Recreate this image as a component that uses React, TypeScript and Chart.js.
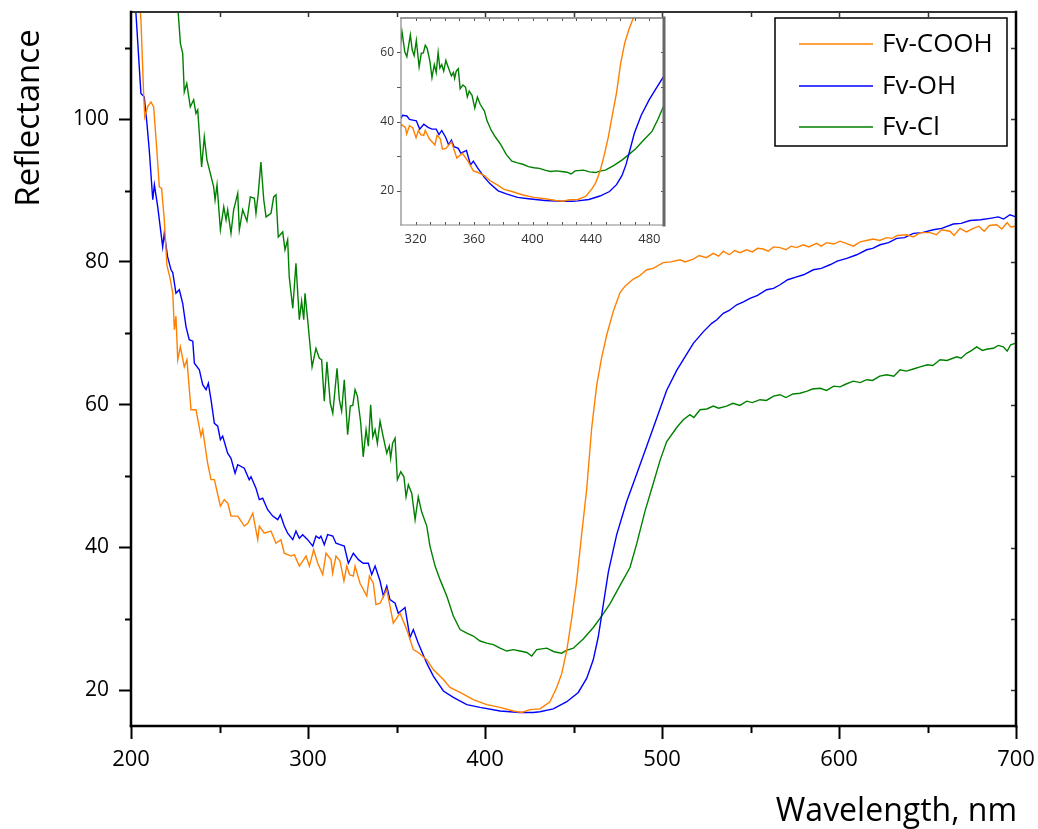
import React, { useEffect, useRef } from 'react';
import { Chart, registerables } from 'chart.js';

Chart.register(...registerables);

const seriesLabels = ['Fv-COOH', 'Fv-OH', 'Fv-Cl'];
const seriesColors = ['#ff8000', '#0000ff', '#008000'];

const wavelengthCOOH = [
  200, 203, 205.6, 207.2, 207.8, 209.5, 211.3, 212.8, 214.5, 216,
  217.3, 218.8, 220.3, 222, 223.6, 224.5, 225.4, 226.4, 227.9, 230.1,
  231.6, 233.9, 236.7, 239.5, 240.5, 243.3, 245.2, 247.1, 250.5, 252.7,
  254.7, 256.5, 260.3, 264, 266, 268.8, 271.6, 272.5, 275.3, 279.1,
  281.9, 284.7, 286.6, 290.4, 292.3, 295.1, 298.9, 300.8, 303.2, 305.5,
  308.3, 310.2, 313, 313.9, 315.8, 318.1, 320.3, 321.9, 323.5, 325.6,
  326.6, 329.4, 333.2, 334.7, 336.9, 338.4, 340.7, 344.5, 348.2, 352,
  355.8, 359.5, 362.3, 367.1, 370.8, 376.5, 380.2, 385.9, 393.4, 401,
  408.5, 416, 420.7, 425.4, 431.1, 436.7, 440.5, 443.3, 446.2, 449,
  451.8, 454.6, 457.5, 460.3, 463.1, 465.9, 468.8, 472.5, 476.3, 479.1,
  483.8, 487, 491.4, 495, 500.7, 505, 510.2, 513, 517.7, 521,
  525, 529, 532, 534.6, 538, 541, 544, 547.8, 551, 554,
  557.2, 560, 563, 566.7, 570, 573, 576, 579.8, 583, 587.4,
  590, 593, 597, 600.6, 604, 608.1, 612, 615.5, 619.4, 623,
  626.9, 630, 633, 638.2, 642, 646, 651.4, 655, 658, 662.7,
  665, 668.4, 672, 675.9, 679, 682, 685, 689.1, 692, 695,
  697, 700,
];
const reflectanceCOOH = [
  135, 122, 114, 103.1, 100.3, 101.8, 102.4, 101.7, 96, 90.5,
  90.3, 85.9, 79.5, 77.8, 75.6, 70.5, 72.4, 66.3, 68.1, 65.3,
  66.3, 59.3, 59.3, 55.6, 56.5, 51.8, 49.5, 49.5, 45.8, 46.7,
  46.2, 44.4, 44.4, 43.0, 43.4, 44.8, 41.1, 43.0, 42.0, 42.3,
  40.6, 41.1, 39.2, 38.8, 39.0, 37.4, 38.8, 37.4, 39.7, 37.8,
  36.2, 39.2, 38.3, 36.4, 38.8, 38.1, 35.3, 37.4, 36.2, 36.0,
  37.4, 35.0, 33.2, 36.0, 35.0, 32.0, 32.2, 34.1, 29.4, 30.8,
  28.5, 25.7, 25.3, 24.3, 22.9, 21.5, 20.4, 19.7, 18.7, 18.0,
  17.6, 17.1, 16.9, 17.3, 17.4, 18.4, 20.4, 22.3, 25.6, 30.1,
  35.3, 41.8, 48.3, 56.8, 62.7, 66.6, 69.8, 73.1, 75.7, 76.6,
  77.6, 78.0, 78.9, 79.1, 79.9, 80.0, 80.3, 80.0, 80.4, 80.9,
  80.6, 81.2, 80.8, 81.5, 81.0, 81.6, 81.3, 81.7, 81.4, 81.9,
  81.8, 81.5, 82.1, 82.0, 81.7, 82.2, 82.0, 82.4, 82.1, 82.6,
  82.2, 82.7, 82.5, 82.9, 82.6, 82.2, 82.8, 83.0, 83.2, 83.0,
  83.4, 83.3, 83.7, 83.8, 83.5, 84.1, 84.1, 83.8, 84.5, 84.3,
  83.7, 84.7, 84.2, 84.7, 85.0, 84.3, 85.1, 85.2, 84.6, 85.5,
  84.9, 85.0,
];

const wavelengthOH = [
  200, 202.8, 205.6, 207.5, 209, 210.3, 212.3, 213.2, 215.1, 217.9,
  218.8, 220.7, 222.6, 223.6, 225.4, 227.3, 229.2, 231.1, 232.9, 234.9,
  235.8, 238.6, 240.5, 242.4, 243.7, 245.2, 247.1, 249, 250.5, 251.8,
  254.6, 256.5, 258.8, 260.3, 264, 266.8, 267.8, 270.6, 272.5, 274.4,
  277.2, 280.1, 282.9, 284.4, 286.6, 288.5, 291.4, 293.2, 295.1, 297,
  299.8, 302.7, 304.5, 306.4, 307.3, 309.2, 311.1, 314, 315.8, 318.1,
  320.5, 322.8, 325.6, 328.5, 331.2, 334.1, 336, 337.9, 340.7, 342.6,
  344.5, 346.3, 349.2, 351, 354.8, 357.6, 359.5, 362.3, 367.1, 370.8,
  376.5, 382.1, 389.7, 397.2, 408.5, 419.8, 427.3, 431, 438.6, 446.2,
  452.7, 457.5, 461.2, 464, 466.9, 469.7, 474.4, 480, 485.7, 491.4,
  497, 502.6, 508.3, 513, 517.7, 520.5, 523.3, 528.1, 531, 534.6,
  538, 542.2, 546, 549.7, 554, 559.1, 563, 566.7, 571, 576.1,
  580, 585.5, 590, 594.9, 599, 604.4, 610, 615.6, 619, 623.2,
  628, 632.6, 637, 642, 647, 653.3, 658, 664.6, 669, 674,
  680, 685.3, 690, 693, 696.6, 700,
];
const reflectanceOH = [
  125, 114.8, 103.6, 103.1, 99.4, 95.7, 88.7, 90.8, 87.7, 82.1,
  84.0, 80.7, 78.9, 78.5, 75.6, 76.1, 74.2, 70.9, 69.1, 68.9,
  65.8, 64.9, 62.8, 62.1, 63.0, 60.7, 57.4, 57.0, 55.1, 55.6,
  53.2, 52.5, 50.4, 51.6, 51.1, 49.5, 49.9, 48.3, 46.7, 46.9,
  45.3, 44.4, 43.9, 44.6, 43.0, 42.0, 41.1, 42.3, 41.3, 41.8,
  41.1, 40.2, 41.6, 41.3, 41.6, 40.4, 41.8, 41.6, 40.6, 40.4,
  40.2, 37.8, 39.2, 38.3, 37.8, 37.8, 36.2, 37.4, 35.3, 33.2,
  34.6, 32.7, 32.2, 30.8, 31.6, 27.4, 28.5, 26.6, 23.8, 22.0,
  19.9, 19.0, 18.0, 17.6, 17.1, 16.9, 16.9, 17.0, 17.4, 18.4,
  19.7, 21.7, 24.3, 27.5, 32.1, 36.6, 41.8, 46.4, 50.3, 54.2,
  58.1, 62.0, 64.8, 66.7, 68.6, 69.4, 70.2, 71.4, 71.9, 72.8,
  73.2, 74.0, 74.4, 74.9, 75.3, 76.1, 76.3, 76.8, 77.5, 77.9,
  78.2, 78.9, 79.1, 79.6, 80.1, 80.5, 81.0, 81.7, 81.9, 82.4,
  82.7, 83.3, 83.4, 84.0, 84.1, 84.5, 84.7, 85.3, 85.4, 85.8,
  85.9, 86.1, 86.3, 86.0, 86.6, 86.3,
];

const wavelengthCl = [
  200, 210, 218, 223, 226.7, 227.9, 229.2, 230.1, 231.5, 233.5,
  235.4, 236.7, 237.7, 239.9, 241.4, 242.9, 244.8, 246.7, 247.5, 248.6,
  250.5, 252.4, 253.7, 254.6, 256.5, 258, 260.3, 261.2, 263.1, 265.5,
  267.4, 269.7, 270.6, 271.9, 273.4, 275, 276.3, 279.1, 280.6, 281.9,
  283.2, 285.7, 287, 288.5, 289.4, 291.4, 293.2, 295.1, 296.4, 297.6,
  298.3, 299.8, 302.3, 304.5, 306.4, 307.7, 309.2, 310.7, 312.6, 314,
  316.4, 317.7, 319, 320.5, 322.4, 323.9, 325.3, 326.6, 327.9, 329.8,
  331.2, 332.8, 334.1, 335.4, 336.6, 337.9, 339.2, 340.7, 342.5, 344.5,
  345.9, 346.7, 347.8, 349.2, 350.5, 352.4, 354.2, 355.4, 356.7, 358.6,
  360.5, 362.3, 364.2, 367.1, 368.9, 371.8, 374.6, 378.4, 382.1, 385.9,
  389.7, 393.4, 397.2, 401, 404.7, 408.5, 412.3, 416, 419.8, 423.6,
  426.4, 429.2, 434.9, 439, 443.3, 446, 449.9, 455.5, 461.2, 465.9,
  470.6, 476.3, 481.9, 485.7, 490.4, 495.1, 498.9, 502.6, 508.3, 512,
  515.8, 518, 521.5, 525.3, 529, 532, 536.5, 540, 544, 547.9,
  551, 555.4, 559, 563, 566.7, 570, 574, 578, 582, 585,
  589.3, 593, 597, 600.6, 604, 608.1, 612, 615.6, 619, 623,
  627, 631, 634.5, 638, 642, 645.8, 650, 653, 657.1, 661,
  666.5, 669, 672.1, 675, 677.8, 681, 684, 687.2, 690, 692.8,
  695, 697, 699.4,
];
const reflectanceCl = [
  170, 146, 128, 120, 114.8, 110.6, 109.2, 103.8, 105.0, 101.7,
  102.7, 100.8, 101.3, 93.3, 97.5, 94.3, 92.4, 90.5, 88.7, 90.8,
  84.5, 87.7, 85.9, 87.3, 84.0, 87.3, 89.6, 84.5, 87.3, 85.7,
  89.1, 88.9, 86.8, 89.6, 94.0, 88.7, 86.3, 86.8, 89.1, 89.4,
  83.5, 84.2, 81.7, 83.1, 77.9, 73.5, 79.8, 71.9, 74.5, 71.9,
  75.6, 71.9, 65.3, 67.9, 66.5, 66.3, 60.5, 66.0, 60.2, 58.8,
  65.1, 60.7, 59.1, 63.5, 55.8, 59.8, 59.9, 62.1, 61.2, 57.4,
  52.7, 56.5, 54.2, 60.0, 55.5, 56.5, 54.6, 57.7, 55.5, 53.2,
  54.2, 52.5, 54.6, 55.3, 49.5, 50.6, 49.9, 47.1, 48.8, 47.6,
  43.9, 47.1, 45.0, 43.0, 40.2, 37.4, 35.5, 33.2, 30.4, 28.5,
  28.0, 27.6, 26.9, 26.6, 26.4, 25.9, 25.5, 25.7, 25.5, 25.3,
  24.8, 25.7, 25.9, 25.4, 25.2, 25.6, 25.9, 27.2, 28.8, 30.4,
  32.1, 34.7, 37.2, 40.5, 45.1, 49.0, 52.2, 54.8, 56.8, 57.9,
  58.6, 58.2, 59.3, 59.4, 59.8, 59.5, 59.8, 60.2, 59.9, 60.5,
  60.3, 60.7, 60.6, 61.2, 61.4, 61.0, 61.5, 61.6, 61.9, 62.2,
  62.3, 62.0, 62.6, 62.5, 62.9, 63.3, 63.1, 63.5, 63.4, 64.0,
  64.2, 64.0, 64.9, 64.7, 65.0, 65.3, 65.6, 65.5, 66.3, 66.2,
  66.7, 66.5, 67.2, 67.6, 68.1, 67.6, 67.8, 67.9, 68.3, 68.1,
  67.5, 68.4, 68.6,
];

// axis ranges and tick values
const mainXRange = [200, 700];
const mainYRange = [15, 115];
const mainXTicks = [200, 300, 400, 500, 600, 700];
const mainYTicks = [20, 40, 60, 80, 100];
const mainXMinorTicks = [250, 350, 450, 550, 650];
const mainYMinorTicks = [30, 50, 70, 90, 110];
const mainTopTicks = [250, 300, 350, 400, 450, 500, 550, 600, 650];
const mainRightTicks = [20, 30, 40, 50, 60, 70, 80, 90, 100, 110];

const insetXRange = [310, 490];
const insetYRange = [10, 70];
const insetXTicks = [320, 360, 400, 440, 480];
const insetYTicks = [20, 40, 60];
const insetXAllTicks = [320, 330, 340, 350, 360, 370, 380, 390, 400, 410, 420, 430, 440, 450, 460, 470, 480];
const insetYAllTicks = [20, 30, 40, 50, 60];

const xTitle = 'Wavelength, nm';
const yTitle = 'Reflectance';

const FONT = "'Open Sans', 'DejaVu Sans', sans-serif";

function toPoints(wl: number[], r: number[]) {
  return wl.map((x, i) => ({ x, y: r[i] }));
}

function makeDatasets(width: number) {
  const src = [
    [wavelengthCOOH, reflectanceCOOH],
    [wavelengthOH, reflectanceOH],
    [wavelengthCl, reflectanceCl],
  ];
  return src.map(([wl, r], i) => ({
    label: seriesLabels[i],
    data: toPoints(wl, r),
    borderColor: seriesColors[i],
    backgroundColor: seriesColors[i],
    borderWidth: width,
    pointRadius: 0,
    fill: false,
    tension: 0,
  }));
}

function zeroPadding(s: any) {
  s.paddingTop = 0;
  s.paddingBottom = 0;
  s.paddingLeft = 0;
  s.paddingRight = 0;
}

type TickSpec = { axis: string; side: string; values: number[]; len: number; dir: 'in' | 'out'; width: number; color: string };
type FrameSpec = { side: string; width: number; color: string };

function makeFramePlugin(id: string, ticks: TickSpec[], frame: FrameSpec[]) {
  return {
    id,
    afterDraw(chart: any) {
      const { ctx, chartArea: a } = chart;
      ctx.save();
      ticks.forEach((t) => {
        const sc = chart.scales[t.axis];
        ctx.strokeStyle = t.color;
        ctx.lineWidth = t.width;
        ctx.beginPath();
        const s = t.dir === 'out' ? 1 : -1;
        t.values.forEach((v) => {
          const p = Math.round(sc.getPixelForValue(v)) + 0.5;
          if (t.side === 'bottom') { ctx.moveTo(p, a.bottom); ctx.lineTo(p, a.bottom + s * t.len); }
          else if (t.side === 'top') { ctx.moveTo(p, a.top); ctx.lineTo(p, a.top - s * t.len); }
          else if (t.side === 'left') { ctx.moveTo(a.left, p); ctx.lineTo(a.left - s * t.len, p); }
          else { ctx.moveTo(a.right, p); ctx.lineTo(a.right + s * t.len, p); }
        });
        ctx.stroke();
      });
      frame.forEach((f) => {
        ctx.strokeStyle = f.color;
        ctx.lineWidth = f.width;
        const e = f.width / 2;
        ctx.beginPath();
        if (f.side === 'left') { ctx.moveTo(a.left, a.top - e); ctx.lineTo(a.left, a.bottom + e); }
        else if (f.side === 'right') { ctx.moveTo(a.right, a.top - e); ctx.lineTo(a.right, a.bottom + e); }
        else if (f.side === 'top') { ctx.moveTo(a.left - e, a.top); ctx.lineTo(a.right + e, a.top); }
        else { ctx.moveTo(a.left - e, a.bottom); ctx.lineTo(a.right + e, a.bottom); }
        ctx.stroke();
      });
      ctx.restore();
    },
  };
}

const mainDecorPlugin = {
  id: 'mainDecor',
  afterDraw(chart: any) {
    const { ctx, chartArea: a } = chart;
    ctx.save();
    // axis titles
    ctx.fillStyle = '#000';
    ctx.font = `33px ${FONT}`;
    ctx.translate(39, 118);
    ctx.rotate(-Math.PI / 2);
    ctx.textAlign = 'center';
    ctx.textBaseline = 'alphabetic';
    ctx.fillText(yTitle, 0, 0);
    ctx.setTransform(1, 0, 0, 1, 0, 0);
    ctx.font = `32px ${FONT}`;
    ctx.textAlign = 'right';
    ctx.fillText(xTitle, a.right + 1, 821);

    // legend
    const bx = 775, by = 18, bw = 232, bh = 128;
    ctx.fillStyle = '#fff';
    ctx.fillRect(bx, by, bw, bh);
    ctx.strokeStyle = '#000';
    ctx.lineWidth = 1.5;
    ctx.strokeRect(bx, by, bw, bh);
    const rows = [44, 86, 127];
    chart.data.datasets.forEach((ds: any, i: number) => {
      ctx.strokeStyle = ds.borderColor;
      ctx.lineWidth = 1.6;
      ctx.beginPath();
      ctx.moveTo(799, rows[i]);
      ctx.lineTo(873, rows[i]);
      ctx.stroke();
      ctx.fillStyle = '#000';
      ctx.font = `26px ${FONT}`;
      ctx.textAlign = 'left';
      ctx.textBaseline = 'middle';
      ctx.fillText(ds.label, 882, rows[i] + 1);
    });
    ctx.restore();
  },
};

export default function App() {
  const mainRef = useRef<HTMLCanvasElement>(null);
  const insetRef = useRef<HTMLCanvasElement>(null);

  useEffect(() => {
    const mainFrame = makeFramePlugin(
      'mainFrame',
      [
        { axis: 'x', side: 'bottom', values: mainXMinorTicks, len: 7, dir: 'out', width: 2, color: '#000' },
        { axis: 'y', side: 'left', values: mainYMinorTicks, len: 6, dir: 'out', width: 2, color: '#000' },
        { axis: 'x', side: 'top', values: mainTopTicks, len: 5, dir: 'in', width: 1.5, color: '#333' },
        { axis: 'y', side: 'right', values: mainRightTicks, len: 5, dir: 'in', width: 1.5, color: '#333' },
      ],
      [
        { side: 'top', width: 2, color: '#333' },
        { side: 'right', width: 2.5, color: '#000' },
        { side: 'left', width: 2.5, color: '#000' },
        { side: 'bottom', width: 2.5, color: '#000' },
      ]
    );

    const main = new Chart(mainRef.current as HTMLCanvasElement, {
      type: 'line',
      data: { datasets: makeDatasets(1.4) as any },
      options: {
        animation: false,
        responsive: false,
        devicePixelRatio: 1,
        events: [],
        layout: { padding: { top: 12, right: 22, left: 0, bottom: 0 } },
        plugins: { legend: { display: false }, tooltip: { enabled: false } },
        scales: {
          x: {
            type: 'linear',
            min: mainXRange[0],
            max: mainXRange[1],
            afterBuildTicks: (s: any) => { s.ticks = mainXTicks.map((v) => ({ value: v })); },
            afterFit: (s: any) => { s.height = 103; zeroPadding(s); },
            grid: { drawOnChartArea: false, drawTicks: true, tickLength: 13, tickWidth: 2, tickColor: '#000' },
            border: { display: false },
            ticks: { autoSkip: false, maxRotation: 0, padding: 8, color: '#000', font: { family: FONT, size: 22 } },
          },
          y: {
            type: 'linear',
            min: mainYRange[0],
            max: mainYRange[1],
            afterBuildTicks: (s: any) => { s.ticks = mainYTicks.map((v) => ({ value: v })); },
            afterFit: (s: any) => { s.width = 131; zeroPadding(s); },
            grid: { drawOnChartArea: false, drawTicks: true, tickLength: 12, tickWidth: 2, tickColor: '#000' },
            border: { display: false },
            ticks: { autoSkip: false, padding: 10, color: '#000', font: { family: FONT, size: 21 } },
          },
        },
      },
      plugins: [mainFrame, mainDecorPlugin],
    } as any);

    const insetFrame = makeFramePlugin(
      'insetFrame',
      [
        { axis: 'y', side: 'left', values: insetYAllTicks, len: 4, dir: 'out', width: 1, color: '#555' },
        { axis: 'y', side: 'right', values: insetYAllTicks, len: 3, dir: 'in', width: 1, color: '#555' },
        { axis: 'x', side: 'top', values: insetXAllTicks, len: 3, dir: 'in', width: 1, color: '#555' },
        { axis: 'x', side: 'bottom', values: insetXAllTicks, len: 3, dir: 'in', width: 1, color: '#555' },
      ],
      [
        { side: 'top', width: 1.5, color: '#777' },
        { side: 'left', width: 1.2, color: '#888' },
        { side: 'bottom', width: 1.2, color: '#888' },
        { side: 'right', width: 3, color: '#666' },
      ]
    );

    const inset = new Chart(insetRef.current as HTMLCanvasElement, {
      type: 'line',
      data: { datasets: makeDatasets(1.4) as any },
      options: {
        animation: false,
        responsive: false,
        devicePixelRatio: 1,
        events: [],
        layout: { padding: { top: 13, right: 16, left: 0, bottom: 0 } },
        plugins: { legend: { display: false }, tooltip: { enabled: false } },
        scales: {
          x: {
            type: 'linear',
            min: insetXRange[0],
            max: insetXRange[1],
            afterBuildTicks: (s: any) => { s.ticks = insetXTicks.map((v) => ({ value: v })); },
            afterFit: (s: any) => { s.height = 30; zeroPadding(s); },
            grid: { display: false, drawOnChartArea: false, drawTicks: false },
            border: { display: false },
            ticks: { autoSkip: false, maxRotation: 0, padding: 6, color: '#333', font: { family: FONT, size: 13 } },
          },
          y: {
            type: 'linear',
            min: insetYRange[0],
            max: insetYRange[1],
            afterBuildTicks: (s: any) => { s.ticks = insetYTicks.map((v) => ({ value: v })); },
            afterFit: (s: any) => { s.width = 41; zeroPadding(s); },
            grid: { display: false, drawOnChartArea: false, drawTicks: false },
            border: { display: false },
            ticks: { autoSkip: false, padding: 7, color: '#333', font: { family: FONT, size: 12 } },
          },
        },
      },
      plugins: [insetFrame],
    } as any);

    return () => {
      main.destroy();
      inset.destroy();
    };
  }, []);

  return (
    <div style={{ position: 'absolute', left: 0, top: 0, width: 1038, height: 829, background: '#fff', overflow: 'hidden' }}>
      <canvas ref={mainRef} width={1038} height={829} style={{ position: 'absolute', left: 0, top: 0, width: 1038, height: 829 }} />
      <canvas ref={insetRef} width={320} height={250} style={{ position: 'absolute', left: 360, top: 5, width: 320, height: 250 }} />
    </div>
  );
}
